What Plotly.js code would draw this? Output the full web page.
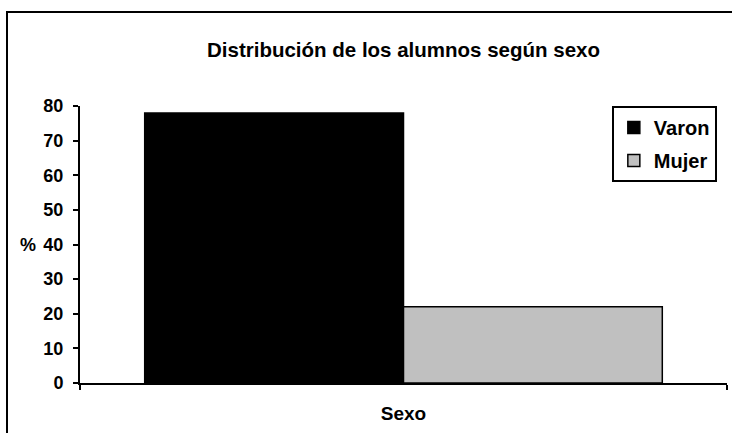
<!DOCTYPE html>
<html><head><meta charset="utf-8">
<script src="https://cdn.plot.ly/plotly-3.0.1.min.js"></script>
<style>
html,body{margin:0;padding:0;overflow:hidden;background:#fff;}
#chart{position:absolute;left:0;top:0;width:732px;height:433px;}
#frame{position:absolute;left:6px;top:11px;width:740px;height:440px;border:2px solid #000;pointer-events:none;}
</style></head>
<body>
<div id="chart"></div>
<div id="frame"></div>
<script>
const categories = ["Sexo"];
const seriesNames = ["Varon", "Mujer"];
const varonValues = [78];
const mujerValues = [22];
const seriesColors = ["#000000", "#c0c0c0"];
const yTickValues = [0,10,20,30,40,50,60,70,80];

const font = "Arial, 'Liberation Sans', sans-serif";
const traces = [
  {type:'bar', x:categories, y:varonValues, name:seriesNames[0], legendgroup:'g1',
   marker:{color:seriesColors[0], line:{color:'#000', width:1.5}}, hoverinfo:'none'},
  {type:'bar', x:categories, y:mujerValues, name:seriesNames[1], legendgroup:'g2',
   marker:{color:seriesColors[1], line:{color:'#000', width:1.5}}, hoverinfo:'none'}
];
const layout = {
  width:732, height:433,
  margin:{l:80, r:5, t:106, b:50},
  paper_bgcolor:'#fff', plot_bgcolor:'#fff',
  barmode:'group', bargap:0.2, bargroupgap:0,
  font:{family:font, color:'#000', weight:'bold'},
  title:{text:'Distribución de los alumnos según sexo', font:{size:20.5, family:font, color:'#000', weight:'bold'},
         xref:'paper', x:0.5, xanchor:'center', yref:'container', y:1-50/433, yanchor:'middle'},
  xaxis:{showticklabels:false, showline:true, linecolor:'#000', linewidth:2,
         ticks:'outside', tickson:'boundaries', ticklen:5, tickwidth:2, tickcolor:'#000',
         showgrid:false, zeroline:false, automargin:false,
         title:{text:'Sexo', font:{size:19, family:font, weight:'bold'}, standoff:23}},
  yaxis:{range:[0,80], tickvals:yTickValues, showline:true, linecolor:'#000', linewidth:2,
         ticks:'outside', ticklen:5, tickwidth:2, tickcolor:'#000', ticklabelstandoff:6,
         showgrid:false, zeroline:false, automargin:false,
         tickfont:{size:18, family:font, weight:'bold'}},
  legend:{x:0.822, xanchor:'left', y:1.0, yanchor:'top', bordercolor:'#000', borderwidth:2,
          bgcolor:'#fff', font:{size:20, family:font, weight:'bold'}, tracegroupgap:4},
  annotations:[{text:'%', xref:'paper', yref:'paper', x:-0.081, y:0.5, xanchor:'center', yanchor:'middle',
               showarrow:false, font:{size:18, family:font, weight:'bold'}}],
  showlegend:true
};
Plotly.newPlot('chart', traces, layout, {staticPlot:true, displayModeBar:false});
</script>
</body></html>
